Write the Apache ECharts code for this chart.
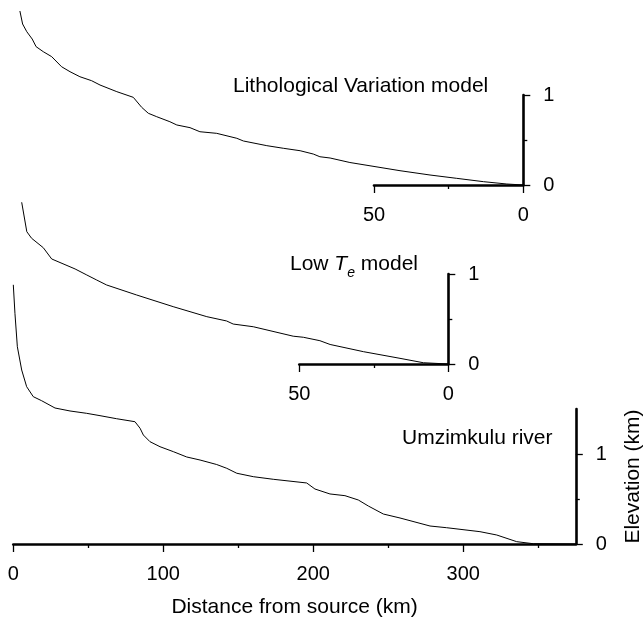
<!DOCTYPE html>
<html><head><meta charset="utf-8">
<script src="https://cdn.jsdelivr.net/npm/echarts@6/dist/echarts.min.js"></script>
<style>html,body{margin:0;padding:0;background:#fff}#c{width:644px;height:620px}</style>
</head><body><div id="c"></div>
<script>
// Lithological Variation model: distance from outlet (km) and elevation (km)
const lithoDist = [167.8,166.9,165.5,163.7,162.4,160,157.2,153.9,151.1,147.8,143.9,141.1,135.5,130,127.2,125,122.2,117.8,115.5,111.1,107.8,102.2,95.5,93.3,85.5,80,74.4,70,67.8,64.4,57.8,41.1,31.1,22.2,13.3,5.5,0];
const lithoElev = [1.933,1.789,1.703,1.622,1.537,1.481,1.426,1.314,1.259,1.203,1.159,1.111,1.037,0.974,0.863,0.797,0.759,0.703,0.667,0.637,0.592,0.574,0.519,0.489,0.437,0.408,0.381,0.344,0.314,0.3,0.25,0.159,0.111,0.074,0.037,0.011,0];
// Low Te model
const lowTeDist = [142.2,140.5,138.9,135,132.2,124.4,120.5,117.2,113.9,103.9,91.7,80.5,73.9,71.7,65,51.7,48.3,42.8,39.4,28.3,16.1,8.3,0];
const lowTeElev = [1.797,1.47,1.397,1.292,1.167,1.056,0.989,0.933,0.878,0.767,0.637,0.526,0.478,0.444,0.414,0.309,0.297,0.259,0.217,0.137,0.063,0.014,0];
// Umzimkulu river: distance from source (km) and elevation (km)
const riverDist = [0,1.1,2.7,5.6,8.9,13.3,18.9,27.8,37.8,48.9,57.8,68.9,81.1,84.5,86.7,91.1,97.8,106.7,115.6,124.5,135.6,142.3,149,160,173.3,195.6,201.1,211.1,221.1,230,236.7,246.7,257.8,277.8,288.9,311.1,322.3,335.6,346.7,375];
const riverElev = [2.88,2.563,2.192,1.933,1.748,1.637,1.592,1.511,1.478,1.452,1.426,1.392,1.359,1.286,1.211,1.137,1.081,1.026,0.967,0.933,0.883,0.841,0.786,0.748,0.719,0.678,0.611,0.556,0.537,0.489,0.422,0.333,0.289,0.2,0.181,0.137,0.1,0.026,0.003,0];
// tick values
const modelXMajorTicks = [0, 50];
const modelXMinorTicks = [25];
const modelYMajorTicks = [0, 1];
const modelYMinorTicks = [0.5];
const riverXMajorTicks = [0, 100, 200, 300];
const riverXMinorTicks = [50, 150, 250, 350];
const riverYMajorTicks = [0, 1];
const riverYMinorTicks = [0.5];

const FONT = 'Liberation Sans';
const zip = (a, b) => a.map((v, i) => [v, b[i]]);
const chart = echarts.init(document.getElementById('c'), null, {renderer: 'canvas'});

const grids = [], xAxes = [], yAxes = [];
const lblStyle = {fontSize: 20, fontFamily: FONT, color: '#000', margin: 20};
const tickLine = {color: '#000', width: 1.3};

function addGrid(box) {
  grids.push(Object.assign({containLabel: false, outerBoundsMode: 'none'}, box));
  return grids.length - 1;
}

function dataPanel(box, xmax, ymax, inverse) {
  const g = addGrid(box);
  xAxes.push({gridIndex: g, type: 'value', min: 0, max: xmax, inverse: inverse, show: false});
  yAxes.push({gridIndex: g, type: 'value', min: 0, max: ymax, show: false});
  return xAxes.length - 1;
}
function axesPanel(box, xmax, ymax, inverse, xMaj, xMin, yMaj, yMin, names) {
  // major ticks, lines and labels
  const g = addGrid(box);
  xAxes.push({gridIndex: g, type: 'value', min: 0, max: xmax, inverse: inverse, position: 'bottom',
    axisLine: {show: true, onZero: false, lineStyle: {color: '#000', width: 2.6}}, splitLine: {show: false},
    axisTick: {show: true, length: 8, lineStyle: tickLine, customValues: xMaj},
    axisLabel: Object.assign({customValues: xMaj}, lblStyle),
    name: names ? names[0] : '', nameLocation: 'middle', nameGap: 53,
    nameTextStyle: {fontSize: 21, fontFamily: FONT, color: '#000'}});
  yAxes.push({gridIndex: g, type: 'value', min: 0, max: ymax, position: 'right',
    axisLine: {show: true, onZero: false, lineStyle: {color: '#000', width: 2.6}}, splitLine: {show: false},
    axisTick: {show: true, length: 7, lineStyle: tickLine, customValues: yMaj},
    axisLabel: Object.assign({customValues: yMaj}, lblStyle),
    name: names ? names[1] : '', nameLocation: 'middle', nameGap: 47, nameRotate: 90,
    nameTextStyle: {fontSize: 21, fontFamily: FONT, color: '#000'}});
  // minor ticks in a twin grid
  const m = addGrid(box);
  xAxes.push({gridIndex: m, type: 'value', min: 0, max: xmax, inverse: inverse, position: 'bottom',
    axisLine: {show: false, onZero: false}, splitLine: {show: false},
    axisTick: {show: true, length: 4, lineStyle: tickLine, customValues: xMin},
    axisLabel: {show: false}});
  yAxes.push({gridIndex: m, type: 'value', min: 0, max: ymax, position: 'right',
    axisLine: {show: false, onZero: false}, splitLine: {show: false},
    axisTick: {show: true, length: 4, lineStyle: tickLine, customValues: yMin},
    axisLabel: {show: false}});
}

const lithoAxis = dataPanel({left: 13, top: 5, width: 510.3, height: 180}, 170.1, 2, true);
axesPanel({left: 374, top: 95, width: 149.3, height: 90}, 50, 1, true,
  modelXMajorTicks, modelXMinorTicks, modelYMajorTicks, modelYMinorTicks);
const lowTeAxis = dataPanel({left: 13, top: 184, width: 435.3, height: 180}, 145.1, 2, true);
axesPanel({left: 299.3, top: 274, width: 149, height: 90}, 50, 1, true,
  modelXMajorTicks, modelXMinorTicks, modelYMajorTicks, modelYMinorTicks);
const riverAxis = dataPanel({left: 13.3, top: 274, width: 562.5, height: 270}, 375, 3, false);
axesPanel({left: 13.3, top: 409, width: 562.5, height: 135}, 375, 1.5, false,
  riverXMajorTicks, riverXMinorTicks, riverYMajorTicks, riverYMinorTicks,
  ['Distance from source (km)', 'Elevation (km)']);

const lineSeries = (ai, data) => ({type: 'line', xAxisIndex: ai, yAxisIndex: ai, data: data,
  showSymbol: false, symbol: 'none', lineStyle: {color: '#000', width: 1}, animation: false, z: 5});

const titleStyle = {fontSize: 21, fontWeight: 'normal', fontFamily: FONT, color: '#000'};
chart.setOption({
  animation: false,
  backgroundColor: '#fff',
  title: [
    {text: 'Lithological Variation model', left: 233, top: 76, padding: 0, textStyle: titleStyle},
    {text: 'Low {T|T}{e|e} model', left: 290, top: 252, padding: 0,
      textStyle: Object.assign({lineHeight: 24, rich: {
        T: {fontSize: 21, fontStyle: 'italic', fontFamily: FONT, color: '#000', lineHeight: 24},
        e: {fontSize: 14, fontStyle: 'italic', fontFamily: FONT, color: '#000', lineHeight: 14, padding: [18, 0, 0, 0]}
      }}, titleStyle)},
    {text: 'Umzimkulu river', left: 402, top: 428, padding: 0, textStyle: titleStyle}
  ],
  grid: grids,
  xAxis: xAxes,
  yAxis: yAxes,
  series: [
    lineSeries(lithoAxis, zip(lithoDist, lithoElev)),
    lineSeries(lowTeAxis, zip(lowTeDist, lowTeElev)),
    lineSeries(riverAxis, zip(riverDist, riverElev))
  ]
});
</script></body></html>
